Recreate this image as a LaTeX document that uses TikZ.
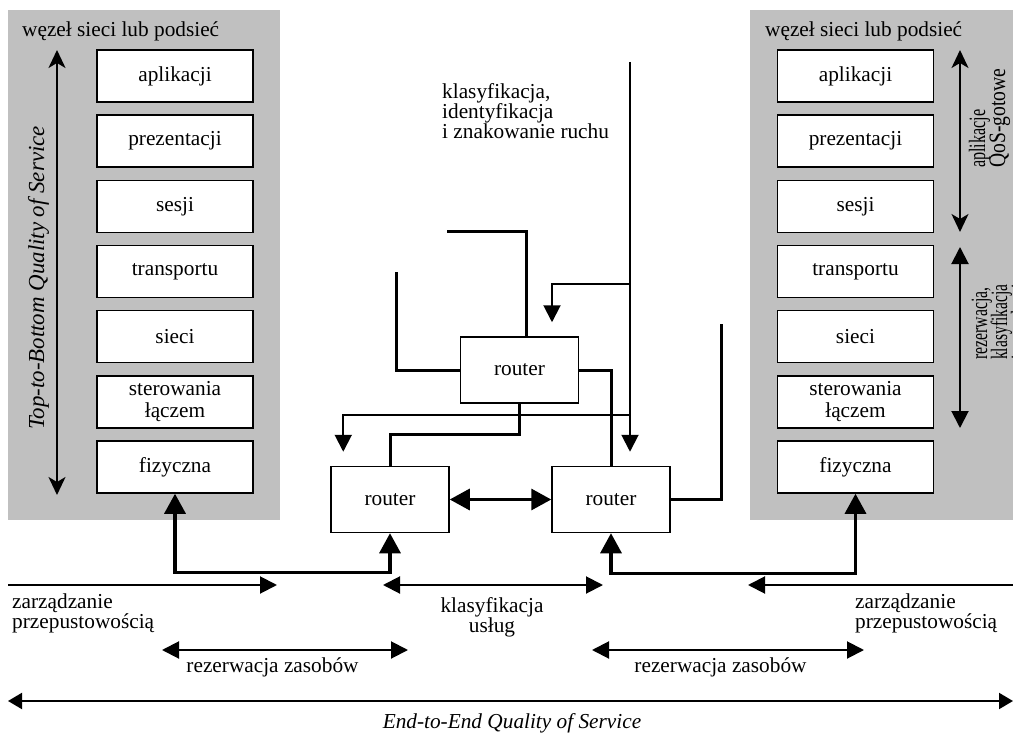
\documentclass[tikz,border=0pt]{standalone}
\usepackage{fontspec}
\usepackage{graphicx}
\setmainfont{Liberation Serif}
\usetikzlibrary{arrows.meta,calc}
\definecolor{panel}{RGB}{192,192,192}

\begin{document}
\begin{tikzpicture}[x=1pt,y=-1pt,
  every node/.style={font=\fontsize{21.3}{20}\selectfont},
  layer/.style={draw, fill=white, line width=1.5pt, minimum width=156pt,
    minimum height=52pt, inner sep=0pt, align=center,
    font=\fontsize{21.3}{22}\selectfont},
  router/.style={draw, fill=white, line width=1.5pt, minimum width=118pt,
    minimum height=66pt, inner sep=0pt},
  label/.style={inner sep=0pt},
  sidelabel/.style={inner sep=0pt, rotate=90, anchor=base west},
  wire/.style={line width=3pt},
  sigarrow/.style={line width=2pt, -{Triangle[length=17pt,width=17pt]}},
  sigboth/.style={line width=2pt,
    {Triangle[length=17pt,width=17pt]}-{Triangle[length=17pt,width=17pt]}},
  wideboth/.style={line width=2pt,
    {Triangle[length=14pt,width=16pt]}-{Triangle[length=14pt,width=16pt]}},
  heavyboth/.style={line width=3.2pt,
    {Triangle[length=20pt,width=21pt]}-{Triangle[length=20pt,width=21pt]}},
  span/.style={line width=2pt,
    {Stealth[length=18pt,width=17pt,inset=5pt]}-{Stealth[length=18pt,width=17pt,inset=5pt]}},
]
\useasboundingbox (0,0) rectangle (1013,733);
\fill[white] (0,0) rectangle (1013,733);

% grey node panels
\fill[panel] (8,10) rectangle (280,520);
\fill[panel] (750,10) rectangle (1013,520);

\node[label, anchor=base west] (Ltitle) at (22,37) {węzeł sieci lub podsieć};
\node[label, anchor=base west] (Rtitle) at (765,37) {węzeł sieci lub podsieć};

% protocol stacks
\node[layer] (Lapp)   at (175,76)    {aplikacji};
\node[layer] (Lpres)  at (175,141.2) {prezentacji};
\node[layer] (Lses)   at (175,206.3) {sesji};
\node[layer] (Ltrans) at (175,271.5) {transportu};
\node[layer] (Lnet)   at (175,336.7) {sieci};
\node[layer] (Llink)  at (175,401.8) {sterowania\\łączem};
\node[layer] (Lphys)  at (175,467)   {fizyczna};

\node[layer] (Rapp)   at (855.5,76)    {aplikacji};
\node[layer] (Rpres)  at (855.5,141.2) {prezentacji};
\node[layer] (Rses)   at (855.5,206.3) {sesji};
\node[layer] (Rtrans) at (855.5,271.5) {transportu};
\node[layer] (Rnet)   at (855.5,336.7) {sieci};
\node[layer] (Rlink)  at (855.5,401.8) {sterowania\\łączem};
\node[layer] (Rphys)  at (855.5,467)   {fizyczna};

% vertical spans beside the stacks
\coordinate (Ltop) at (57,50);
\coordinate (Lbot) at (57,495);
\draw[span] (Ltop) -- (Lbot);
\node[label, rotate=90, anchor=base, font=\fontsize{22.9}{20}\selectfont\itshape]
  (tbq) at (44,278) {Top-to-Bottom Quality of Service};

\coordinate (Qtop) at (960,50);
\coordinate (Qbot) at (960,232);
\draw[span] (Qtop) -- (Qbot);
\coordinate (Rtop) at (960,247);
\coordinate (Rbot) at (960,428);
\draw[sigboth] (Rtop) -- (Rbot);

\node[sidelabel] (qa1) at (985,168)  {\scalebox{0.76}[1.1]{aplikacje}};
\node[sidelabel] (qa2) at (1005,168) {\scalebox{0.92}[1.1]{QoS-gotowe}};
\node[sidelabel] (rk1) at (987,360)  {\scalebox{0.74}[1.1]{rezerwacja,}};
\node[sidelabel] (rk2) at (1007,360) {\scalebox{0.73}[1.1]{klasyfikacja}};
\node[sidelabel] (rk3) at (1027,360) {\scalebox{0.74}[1.1]{i zarządzanie}};

% routers
\node[router] (rT) at (519.5,370) {router};
\node[router] (rL) at (390,499.5) {router};
\node[router] (rR) at (611,499.5) {router};

\node[label, anchor=north west, align=left] (cls) at (442,83.5)
  {klasyfikacja,\\identyfikacja\\i znakowanie ruchu};

% links between routers
\coordinate (stubL) at (396,272);
\coordinate (stubT) at (447,232);
\coordinate (stubR) at (721,324);
\draw[wire] (rT.west) -| (stubL);
\draw[wire] ([xshift=6.5pt]rT.north) |- (stubT);
\draw[wire] (rT.east) -| (rR.north);
\draw[wire] (rR.east) -| (stubR);
\draw[wire] (rT.south) -- ++(0,31) -| (rL.north);
\draw[heavyboth] (rL.east) -- (rR.west);

% marked traffic feed
\coordinate (feed) at (630,62);
\coordinate (j1) at (630,284);
\coordinate (j2) at (630,415);
\draw[sigarrow, shorten >=14pt] (feed) -- (feed |- rR.north);
\draw[sigarrow, shorten >=14pt] (j1) -| ([xshift=32.5pt]rT.north);
\draw[sigarrow, shorten >=14pt] (j2) -| ([xshift=13pt]rL.north west);

% physical links to the end nodes
\draw[heavyboth] (Lphys.south) -- ++(0,79) -| (rL.south);
\draw[heavyboth] (rR.south) -- ++(0,40) -| (Rphys.south);

% bottom scopes
\coordinate (bwL) at (8,585);
\coordinate (bwLe) at (277,585);
\draw[sigarrow] (bwL) -- (bwLe);
\coordinate (csA) at (383,585);
\coordinate (csB) at (603,585);
\draw[sigboth] (csA) -- (csB);
\coordinate (bwR) at (1013,585);
\coordinate (bwRe) at (748,585);
\draw[sigarrow] (bwR) -- (bwRe);

\node[label, anchor=north west, align=left] (bwLt) at (12,593.5)
  {zarządzanie\\przepustowością};
\node[label, anchor=north, align=center] (cst) at (492,597.5)
  {klasyfikacja\\usług};
\node[label, anchor=north west, align=left] (bwRt) at (855,593.5)
  {zarządzanie\\przepustowością};

\coordinate (rzA) at (162,650);
\coordinate (rzB) at (408,650);
\draw[sigboth] (rzA) -- (rzB);
\coordinate (rzC) at (592,650);
\coordinate (rzD) at (864,650);
\draw[sigboth] (rzC) -- (rzD);
\node[label, anchor=base] (rzL) at (272.5,672) {rezerwacja zasobów};
\node[label, anchor=base] (rzR) at (720.5,672) {rezerwacja zasobów};

\coordinate (eeA) at (8,701);
\coordinate (eeB) at (1013,701);
\draw[wideboth] (eeA) -- (eeB);
\node[label, anchor=base, font=\fontsize{21.3}{20}\selectfont\itshape]
  (e2e) at (512,728) {End-to-End Quality of Service};
\end{tikzpicture}
\end{document}
